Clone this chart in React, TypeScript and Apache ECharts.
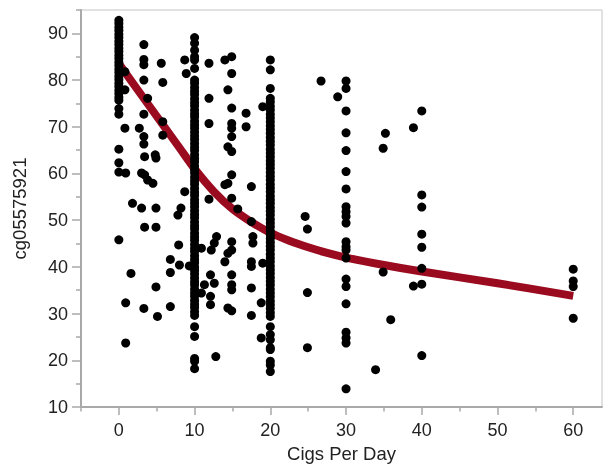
import React, { useEffect, useRef } from "react";
import * as echarts from "echarts";

// x = 0 column (y values)
const col0: number[] = [92.8, 92.1, 91.3, 90.6, 89.8, 89.1, 88.3, 87.6, 86.8, 86.1, 85.3, 84.6, 83.8, 83.1, 82.3, 81.6, 80.8, 80.1, 79.3, 78.6, 77.8, 77.1, 76.3, 75.7, 73.9, 72.7, 65.2, 62.3, 60.3, 45.8];
// x = 10 column
const col10: number[] = [89.1, 87.9, 86.4, 85.0, 84.3, 82.5, 80.0, 79.3, 78.4, 77.6, 76.9, 76.0, 75.2, 74.5, 73.6, 72.8, 72.1, 71.2, 70.4, 69.7, 68.8, 68.0, 67.3, 66.4, 65.6, 64.9, 64.0, 63.2, 62.5, 61.6, 60.8, 60.1, 59.2, 58.4, 57.7, 56.8, 56.0, 55.3, 54.4, 53.6, 52.9, 52.0, 51.2, 50.5, 49.6, 48.8, 48.1, 47.2, 46.4, 45.7, 44.8, 44.0, 43.3, 42.4, 41.6, 40.9, 40.0, 39.2, 38.5, 37.6, 36.8, 36.1, 35.2, 34.4, 33.7, 32.8, 32.0, 31.3, 30.4, 29.6, 27.2, 25.1, 20.4, 19.8, 18.2];
// x = 20 column
const col20: number[] = [84.3, 82.2, 78.2, 76.1, 75.3, 74.4, 73.6, 72.7, 71.9, 71.1, 70.2, 69.4, 68.6, 67.7, 66.9, 66.1, 65.2, 64.4, 63.6, 62.7, 61.9, 61.1, 60.2, 59.4, 58.6, 57.7, 56.9, 56.1, 55.2, 54.4, 53.6, 52.7, 51.9, 51.1, 50.2, 49.4, 48.6, 47.7, 46.9, 46.1, 45.2, 44.4, 43.6, 42.7, 41.9, 41.1, 40.2, 39.4, 38.6, 37.7, 36.9, 36.1, 35.2, 34.4, 33.6, 32.7, 31.9, 31.1, 30.2, 29.4, 27.2, 25.5, 24.4, 22.7, 22.3, 19.8, 19.0, 17.6];
// x = 30 column
const col30: number[] = [79.8, 78.2, 73.4, 68.7, 64.9, 60.4, 56.7, 52.9, 51.8, 50.8, 49.4, 45.4, 44.3, 43.6, 41.9, 37.4, 35.8, 32.1, 26.0, 24.8, 23.7, 13.9];
// x = 40 column
const col40: number[] = [73.4, 55.4, 52.8, 47.0, 44.2, 39.7, 36.3, 21.0];
// x = 60 column
const col60: number[] = [39.5, 37.0, 35.8, 29.0];

// other individual points [cigs, value]
const lowPts: [number, number][] = [
  [0.8, 81.8], [0.8, 77.9], [0.8, 69.7], [0.9, 60.1], [1.6, 38.6], [0.9, 32.3], [0.9, 23.7],
  [2.7, 69.7], [3.3, 87.6], [3.3, 84.4], [3.3, 83.3], [3.3, 80.0], [3.8, 76.1], [3.3, 72.7],
  [3.3, 67.9], [3.3, 66.3], [3.4, 63.6], [3.0, 60.1], [3.4, 59.7], [3.8, 58.6], [4.5, 57.9],
  [4.8, 64.0], [4.9, 63.3], [1.8, 53.6], [3.0, 52.6], [4.9, 52.6], [3.4, 48.5], [4.9, 48.5],
  [3.3, 31.1], [5.1, 29.4], [4.9, 35.7], [6.8, 31.5], [6.8, 38.8], [6.8, 41.6], [5.6, 83.6],
  [5.8, 79.5], [5.8, 71.1], [5.8, 68.2], [8.7, 84.3], [8.9, 81.4], [8.7, 56.1], [8.2, 52.6],
  [7.8, 51.1], [7.9, 44.7], [8.0, 40.4], [9.3, 40.2],
];
const midPts: [number, number][] = [
  [11.9, 83.6], [11.9, 76.1], [11.9, 70.7], [11.9, 54.5], [12.1, 38.3], [12.1, 33.7], [12.1, 31.9],
  [10.9, 44.0], [11.3, 36.2], [10.9, 34.4], [12.9, 46.5], [12.6, 45.1], [12.2, 43.6], [12.6, 36.5],
  [12.8, 20.8], [14.0, 84.3], [14.9, 85.0], [14.9, 81.4], [14.4, 77.9], [14.9, 74.0], [14.9, 70.7],
  [14.9, 69.7], [14.9, 67.9], [14.4, 65.7], [14.9, 64.7], [14.9, 59.7], [14.4, 57.9], [14.0, 57.6],
  [14.9, 54.7], [14.9, 45.4], [14.9, 43.6], [14.4, 42.9], [14.0, 41.1], [14.9, 38.3], [14.9, 36.2],
  [14.9, 35.1], [14.4, 31.2], [14.9, 30.6], [15.7, 52.4], [16.8, 72.9], [16.8, 70.0], [17.5, 57.2],
  [17.5, 49.7], [17.7, 46.5], [17.7, 45.1], [17.5, 41.1], [17.5, 40.1], [17.5, 35.5], [17.5, 29.6],
  [19.0, 74.3], [19.0, 40.8], [18.8, 32.3], [18.8, 24.8],
];
const highPts: [number, number][] = [
  [24.6, 50.8], [24.9, 48.1], [24.9, 34.5], [24.9, 22.7], [26.7, 79.8], [28.9, 76.4],
  [35.2, 68.6], [34.9, 65.4], [34.9, 38.9], [35.9, 28.7], [33.9, 18.0], [38.9, 69.8], [38.9, 35.9],
];

// fitted curve
const fitX: number[] = [0, 2, 4, 6, 8, 10, 12.5, 15, 17.5, 20, 22.5, 25, 27.5, 30, 35, 40, 50, 60];
const fitY: number[] = [83.5, 79.0, 74.5, 70.0, 65.5, 61.0, 56.2, 52.4, 49.6, 47.3, 45.6, 44.2, 43.0, 42.0, 40.4, 39.0, 36.5, 33.8];

const xMajor: number[] = [0, 10, 20, 30, 40, 50, 60];
const xMinor: number[] = [-5, 5, 15, 25, 35, 45, 55];
const yMajor: number[] = [10, 20, 30, 40, 50, 60, 70, 80, 90];
const yMinor: number[] = [15, 25, 35, 45, 55, 65, 75, 85, 95];

const X_MIN = -5;
const X_MAX = 63.8;
const Y_MIN = 10;
const Y_MAX = 95;

export default function App() {
  const ref = useRef<HTMLDivElement>(null);
  useEffect(() => {
    if (!ref.current) return;
    const chart = echarts.init(ref.current, undefined, { renderer: "svg" });
    const pts: [number, number][] = [];
    col0.forEach((v) => pts.push([0, v]));
    col10.forEach((v) => pts.push([10, v]));
    col20.forEach((v) => pts.push([20, v]));
    col30.forEach((v) => pts.push([30, v]));
    col40.forEach((v) => pts.push([40, v]));
    col60.forEach((v) => pts.push([60, v]));
    lowPts.forEach((p) => pts.push(p));
    midPts.forEach((p) => pts.push(p));
    highPts.forEach((p) => pts.push(p));
    const fit = fitX.map((x, i) => [x, fitY[i]]);
    const font = "'Liberation Sans', Arial, sans-serif";
    const axisColor = "#a9a9a9";
    chart.setOption({
      animation: false,
      grid: {
        left: 81,
        right: 1,
        top: 10,
        bottom: 63,
        show: true,
        borderColor: "#c4c4c4",
        borderWidth: 1,
      },
      xAxis: [
        {
          type: "value",
          min: X_MIN,
          max: X_MAX,
          name: "Cigs Per Day",
          nameLocation: "middle",
          nameGap: 37,
          nameTextStyle: { fontFamily: font, fontSize: 18.5, color: "#222" },
          axisLine: { show: true, onZero: false, lineStyle: { color: axisColor, width: 2 } },
          axisTick: { show: true, length: 8, customValues: xMajor, lineStyle: { color: axisColor, width: 1.5 } },
          axisLabel: { customValues: xMajor, margin: 14, fontFamily: font, fontSize: 18, color: "#222" },
          splitLine: { show: false },
        },
        {
          type: "value",
          min: X_MIN,
          max: X_MAX,
          position: "bottom",
          axisLine: { show: false, onZero: false },
          axisTick: { show: true, length: 4.5, customValues: xMinor, lineStyle: { color: axisColor, width: 1.5 } },
          axisLabel: { show: false },
          splitLine: { show: false },
        },
      ],
      yAxis: [
        {
          type: "value",
          min: Y_MIN,
          max: Y_MAX,
          name: "cg05575921",
          nameLocation: "middle",
          nameGap: 52,
          nameTextStyle: { fontFamily: font, fontSize: 18.5, color: "#222" },
          axisLine: { show: true, onZero: false, lineStyle: { color: axisColor, width: 2 } },
          axisTick: { show: true, length: 9, customValues: yMajor, lineStyle: { color: axisColor, width: 1.5 } },
          axisLabel: { customValues: yMajor, margin: 13, fontFamily: font, fontSize: 18, color: "#222" },
          splitLine: { show: false },
        },
        {
          type: "value",
          min: Y_MIN,
          max: Y_MAX,
          position: "left",
          axisLine: { show: false, onZero: false },
          axisTick: { show: true, length: 5, customValues: yMinor, lineStyle: { color: axisColor, width: 1.5 } },
          axisLabel: { show: false },
          splitLine: { show: false },
        },
      ],
      series: [
        {
          type: "line",
          data: fit,
          smooth: 0.3,
          symbol: "none",
          lineStyle: { color: "#9b0b20", width: 8 },
          z: 1,
        },
        {
          type: "scatter",
          data: pts,
          symbolSize: 9,
          itemStyle: { color: "#000", opacity: 1 },
          z: 2,
        },
      ],
    });
    return () => chart.dispose();
  }, []);
  return <div ref={ref} style={{ position: "fixed", left: 0, top: 0, width: 603, height: 470 }} />;
}
